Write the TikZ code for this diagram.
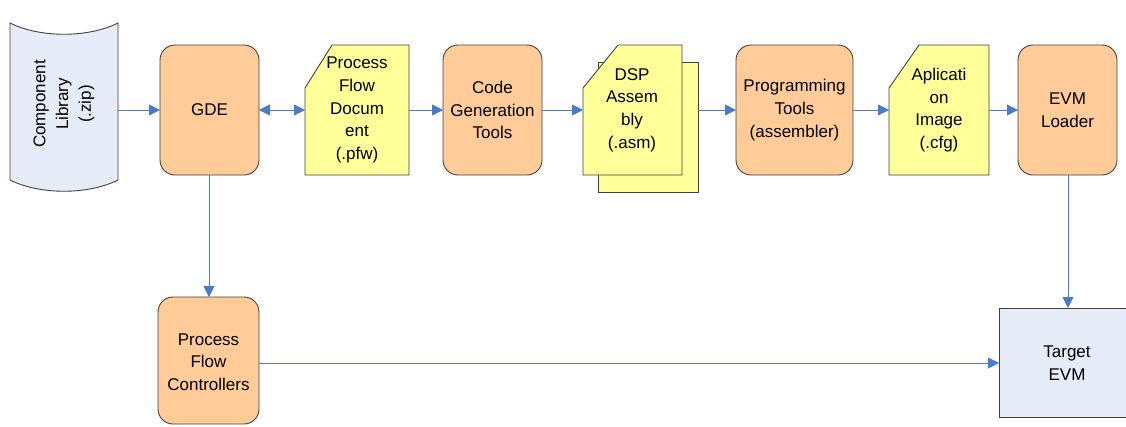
\documentclass[tikz,border=0pt]{standalone}
\usepackage{fontspec}
\setmainfont{Liberation Sans}
\usetikzlibrary{arrows.meta}
\definecolor{procfill}{HTML}{FFCC99}
\definecolor{docfill}{HTML}{FFFF99}
\definecolor{bluefill}{HTML}{E6ECF7}
\definecolor{edgecol}{HTML}{404040}
\definecolor{arrowcol}{HTML}{4A7BC8}
\tikzset{
  proc/.style={draw=edgecol, line width=0.9pt, fill=procfill, rounded corners=15pt},
  docshape/.style={draw=edgecol, line width=0.9pt, fill=docfill},
  lbl/.style={align=center, font=\fontsize{17}{22.7}\selectfont, inner sep=0pt},
  conn/.style={draw=arrowcol, line width=0.9pt, -{Triangle[length=11pt,width=11pt]}},
  dconn/.style={draw=arrowcol, line width=0.9pt, {Triangle[length=11pt,width=11pt]}-{Triangle[length=11pt,width=11pt]}}
}
\begin{document}
\begin{tikzpicture}[x=1pt,y=-1pt]
\useasboundingbox (0,0) rectangle (1126,426);
% Component library cylinder
\draw[draw=edgecol, line width=0.9pt, fill=bluefill]
  (10,23) .. controls (40,38) and (88,38) .. (118,23) -- (118,180)
  .. controls (88,195) and (40,195) .. (10,180) -- cycle;
\node[lbl, rotate=90] (lib) at (64,104) {Component\\Library\\(.zip)};
\coordinate (libE) at (118,110);

% GDE
\draw[proc] (160,45) rectangle (259,175);
\node[lbl] (gde) at (209.5,110) {GDE};
\coordinate (gdeW) at (160,110);
\coordinate (gdeE) at (259,110);
\coordinate (gdeS) at (209,175);

% Process Flow Document
\draw[docshape] (332,45) -- (409,45) -- (409,175) -- (305,175) -- (305,88) -- cycle;
\node[lbl] (pfd) at (357,110) {Process\\Flow\\Docum\\ent\\(.pfw)};
\coordinate (pfdW) at (305,110);
\coordinate (pfdE) at (409,110);

% Code Generation Tools
\draw[proc] (443,45) rectangle (542,175);
\node[lbl] (cgt) at (492.5,110) {Code\\Generation\\Tools};
\coordinate (cgtW) at (443,110);
\coordinate (cgtE) at (542,110);

% DSP Assembly (stacked)
\draw[docshape] (598,62) rectangle (698,192);
\draw[docshape] (618,45) -- (682,45) -- (682,175) -- (583,175) -- (583,88) -- cycle;
\node[lbl] (dsp) at (632,110) {DSP\\Assem\\bly\\(.asm)};
\coordinate (dspW) at (583,110);
\coordinate (dspE) at (698,110);

% Programming Tools
\draw[proc] (736,45) rectangle (853,175);
\node[lbl] (pt) at (794.5,110) {Programming\\Tools\\(assembler)};
\coordinate (ptW) at (736,110);
\coordinate (ptE) at (853,110);

% Aplication Image
\draw[docshape] (919,45) -- (989,45) -- (989,175) -- (889,175) -- (889,88) -- cycle;
\node[lbl] (img) at (939,110) {Aplicati\\on\\Image\\(.cfg)};
\coordinate (imgW) at (889,110);
\coordinate (imgE) at (989,110);

% EVM Loader
\draw[proc] (1018,45) rectangle (1117,175);
\node[lbl] (evm) at (1067.5,110) {EVM\\Loader};
\coordinate (evmW) at (1018,110);
\coordinate (evmS) at (1068,175);

% Process Flow Controllers
\draw[proc] (158,297) rectangle (259,424);
\node[lbl] (pfc) at (208.5,362) {Process\\Flow\\Controllers};
\coordinate (pfcN) at (209,297);
\coordinate (pfcE) at (259,363);

% Target EVM
\draw[draw=edgecol, line width=0.9pt, fill=bluefill] (999,308) rectangle (1135,417);
\node[lbl] (tgt) at (1067,363) {Target\\EVM};
\coordinate (tgtW) at (999,363);
\coordinate (tgtN) at (1068,308);

% Connectors
\draw[conn] (libE) -- (gdeW);
\draw[dconn] (gdeE) -- (pfdW);
\draw[conn] (pfdE) -- (cgtW);
\draw[conn] (cgtE) -- (dspW);
\draw[conn] (dspE) -- (ptW);
\draw[conn] (ptE) -- (imgW);
\draw[conn] (imgE) -- (evmW);
\draw[conn] (gdeS) -- (pfcN);
\draw[conn] (evmS) -- (tgtN);
\draw[conn] (pfcE) -- (tgtW);
\end{tikzpicture}
\end{document}
